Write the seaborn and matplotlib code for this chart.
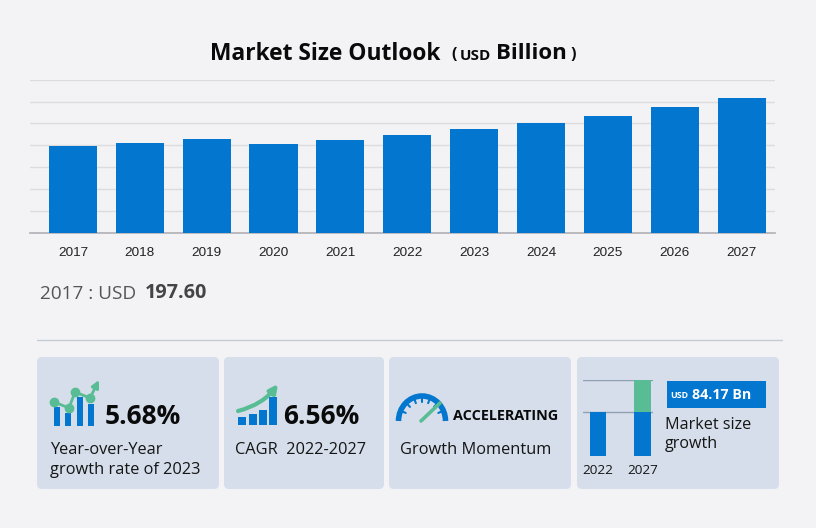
import matplotlib
matplotlib.use('Agg')
import numpy as np
import pandas as pd
import seaborn as sns
import matplotlib.pyplot as plt
from matplotlib.patches import FancyBboxPatch, Rectangle, Arc, FancyArrowPatch

sns.set_theme(style='white')
plt.rcParams['font.family'] = ['Open Sans', 'DejaVu Sans']

BG = '#f3f3f5'
CARD = '#d5deea'
BLUE = '#0377cf'
GREEN = '#58bd94'
INK = '#0a0a0a'

# chart data
years = ['2017', '2018', '2019', '2020', '2021', '2022', '2023', '2024', '2025', '2026', '2027']
market_size = [197.6, 205.5, 214.5, 203.0, 213.0, 224.3, 237.0, 250.7, 267.7, 287.0, 308.5]

# mini chart in the last card
mini_years = ['2022', '2027']
mini_base = [224.3, 224.3]
mini_growth = [0, 84.17]

# icon shapes, pixels
yoy_bars = [(54, 407), (65, 413), (77, 397), (88, 404)]
yoy_line_x = [54, 69, 75, 90]
yoy_line_y = [402, 408, 392, 398]
cagr_bars = [(238, 417), (249, 414), (259, 410), (269, 397)]
cards = [(37, 219), (224, 384), (389, 571), (577, 779)]

W, H = 816, 528
fig = plt.figure(figsize=(W / 100, H / 100), dpi=100, facecolor=BG)


def px_axes(x0, y0, x1, y1):
    return fig.add_axes([x0 / W, 1 - y1 / H, (x1 - x0) / W, (y1 - y0) / H])


# overlay in pixel coordinates for cards, text, icons
bg = px_axes(0, 0, W, H)
bg.set_xlim(0, W)
bg.set_ylim(H, 0)
bg.axis('off')

# main bars
ax = px_axes(30, 79.7, 775, 232.7)
ax.patch.set_alpha(0)
df = pd.DataFrame({'year': years, 'size': market_size})
sns.barplot(data=df, x='year', y='size', color=BLUE, saturation=1, width=0.72, linewidth=0, ax=ax, zorder=3)
ax.set_xlim(-0.643, 10.5)
ax.set_ylim(0, 350)
ax.set_yticks(np.arange(0, 351, 50))
ax.set_yticklabels([])
ax.yaxis.grid(True, color='#dcdcdf', lw=1)
ax.set_axisbelow(True)
ax.set_xlabel('')
ax.set_ylabel('')
for s in ['top', 'left', 'right']:
    ax.spines[s].set_visible(False)
ax.spines['bottom'].set_color('#b4b4b8')
ax.tick_params(axis='x', length=0, pad=10, labelsize=9.7, labelcolor='#222222', labelfontfamily='Liberation Sans')
ax.tick_params(axis='y', length=0)

# title
bg.text(325, 53.5, 'Market Size Outlook', ha='center', va='center', fontsize=16.4, fontweight='bold', color=INK)
bg.text(454, 55, '(', ha='center', va='center', fontsize=11.5, fontweight='bold', color=INK)
bg.text(475.5, 56, 'USD', ha='center', va='center', fontsize=11, fontweight='bold', color=INK)
bg.text(531, 53.5, 'Billion', ha='center', va='center', fontsize=16, fontweight='bold', color=INK)
bg.text(573, 55, ')', ha='center', va='center', fontsize=11.5, fontweight='bold', color=INK)

# selected value
bg.text(40, 294, '2017 : USD', ha='left', va='center', fontsize=13.7, color='#555555')
bg.text(145, 293, '197.60', ha='left', va='center', fontsize=14.3, fontweight='bold', color='#444444')
bg.plot([37, 782], [340, 340], color='#c4ccd8', lw=1)

# cards
for x0, x1 in cards:
    bg.add_patch(FancyBboxPatch((x0 + 5, 362), x1 - x0 - 10, 122, boxstyle='round,pad=5,rounding_size=5',
                                fc=CARD, ec='none'))

# card 1
for x, top in yoy_bars:
    bg.add_patch(Rectangle((x, top), 6, 426 - top, fc=BLUE, ec='none'))
bg.plot(yoy_line_x, yoy_line_y, color=GREEN, lw=2, marker='o', ms=6)
bg.add_patch(FancyArrowPatch((90, 398), (99, 380), arrowstyle='-|>', mutation_scale=11, color=GREEN, lw=2,
                             shrinkA=0, shrinkB=0))
bg.text(105, 416, '5.68%', ha='left', va='center', fontsize=19, fontweight='bold', color=INK)
bg.text(50, 450, 'Year-over-Year', ha='left', va='center', fontsize=11.75, color='#151515')
bg.text(50, 470, 'growth rate of 2023', ha='left', va='center', fontsize=11.75, color='#151515')

# card 2
for x, top in cagr_bars:
    bg.add_patch(Rectangle((x, top), 7.5, 425 - top, fc=BLUE, ec='none'))
bg.add_patch(FancyArrowPatch((238, 411), (278, 384), connectionstyle='arc3,rad=0.18', arrowstyle='-|>',
                             mutation_scale=12, color=GREEN, lw=3, shrinkA=0, shrinkB=0))
bg.text(283, 416, '6.56%', ha='left', va='center', fontsize=19, fontweight='bold', color=INK)
bg.text(235, 450, 'CAGR  2022-2027', ha='left', va='center', fontsize=11.75, color='#151515')

# card 3, gauge
bg.add_patch(Arc((422, 421), 47, 50, theta1=180, theta2=360, color=BLUE, lw=4))
for ang in np.deg2rad([205, 228, 250, 270, 290, 312, 335]):
    bg.plot([422 + 22 * np.cos(ang), 422 + 18 * np.cos(ang)],
            [421 + 23 * np.sin(ang), 421 + 19 * np.sin(ang)], color=BLUE, lw=1.5)
bg.plot([421, 440], [421, 403], color=GREEN, lw=2.6, solid_capstyle='round')
bg.text(453, 416, 'ACCELERATING', ha='left', va='center', fontsize=10.4, fontweight='bold', color=INK)
bg.text(400, 450, 'Growth Momentum', ha='left', va='center', fontsize=11.75, color='#151515')

# card 4, mini chart
mini = px_axes(583, 380, 653, 456)
mini.patch.set_alpha(0)
mini_df = pd.DataFrame({'year': mini_years, 'base': mini_base, 'growth': mini_growth})
sns.barplot(data=mini_df, x='year', y='base', color=BLUE, saturation=1, width=0.367, linewidth=0, ax=mini, zorder=3)
mini.bar(mini_df['year'], mini_df['growth'], bottom=mini_df['base'], color=GREEN, width=0.367, linewidth=0, zorder=3)
mini.set_xlim(-0.328, 1.228)
mini.set_ylim(108, 308.5)
mini.set_yticks([224.3, 308.5])
mini.set_yticklabels([])
mini.yaxis.grid(True, color='#8fa0b3', lw=1, zorder=5)
mini.set_axisbelow(False)
mini.set_xlabel('')
mini.set_ylabel('')
for s in mini.spines.values():
    s.set_visible(False)
mini.tick_params(axis='both', length=0)
mini.tick_params(axis='x', pad=6, labelsize=9.7, labelcolor='#151515')

bg.add_patch(Rectangle((667, 381), 99, 27, fc=BLUE, ec='none'))
bg.text(670, 396, 'USD', ha='left', va='center', fontsize=6.4, fontweight='bold', color='white')
bg.text(692, 395, '84.17 Bn', ha='left', va='center', fontsize=10.3, fontweight='bold', color='white')
bg.text(665, 425, 'Market size', ha='left', va='center', fontsize=11.6, color='#151515')
bg.text(665, 444.5, 'growth', ha='left', va='center', fontsize=11.6, color='#151515')

fig.savefig('out.png', dpi=100, facecolor=BG)
